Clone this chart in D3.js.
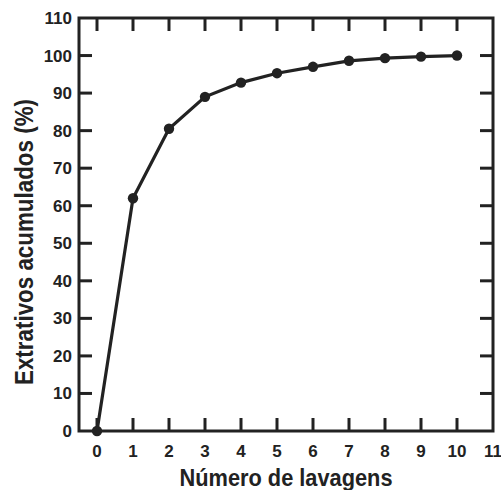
<!DOCTYPE html>
<html><head><meta charset="utf-8">
<script src="https://cdn.jsdelivr.net/npm/d3@7"></script>
<style>body{margin:0;background:#fff}svg{display:block}text{font-family:"Liberation Sans",Arial,sans-serif;font-weight:bold;fill:#222}</style>
</head><body>
<script>
const washes = [0,1,2,3,4,5,6,7,8,9,10];
const extractives = [0,62,80.5,89,92.8,95.3,97,98.6,99.3,99.7,100];
const xTicks = [0,1,2,3,4,5,6,7,8,9,10,11];
const yTicks = [0,10,20,30,40,50,60,70,80,90,100,110];
const xTitle = "Número de lavagens";
const yTitle = "Extrativos acumulados (%)";

const W=501,H=490;
const m={l:79,r:8,t:18,b:59};
const svg=d3.select("body").append("svg").attr("width",W).attr("height",H);
const x=d3.scaleLinear().domain([-0.5,11]).range([m.l,W-m.r]);
const y=d3.scaleLinear().domain([0,110]).range([H-m.b,m.t]);
const col="#222";
const tl=13;
const g=svg.append("g");
xTicks.forEach(t=>{
  if(t<11){
  g.append("line").attr("x1",x(t)).attr("x2",x(t)).attr("y1",y(0)).attr("y2",y(0)-tl).attr("stroke",col).attr("stroke-width",3);
  g.append("line").attr("x1",x(t)).attr("x2",x(t)).attr("y1",y(110)).attr("y2",y(110)+tl).attr("stroke",col).attr("stroke-width",3);
  }
  g.append("text").attr("x",x(t)).attr("y",y(0)+26).attr("text-anchor","middle").attr("font-size",17).text(t);
});
yTicks.forEach(t=>{
  if(t>0 && t<110){
  g.append("line").attr("x1",x(-0.5)).attr("x2",x(-0.5)+tl).attr("y1",y(t)).attr("y2",y(t)).attr("stroke",col).attr("stroke-width",3);
  g.append("line").attr("x1",x(11)).attr("x2",x(11)-tl).attr("y1",y(t)).attr("y2",y(t)).attr("stroke",col).attr("stroke-width",3);
  }
  g.append("text").attr("x",x(-0.5)-7).attr("y",y(t)+6).attr("text-anchor","end").attr("font-size",17).text(t);
});
g.append("rect").attr("x",x(-0.5)).attr("y",y(110)).attr("width",x(11)-x(-0.5)).attr("height",y(0)-y(110)).attr("fill","none").attr("stroke",col).attr("stroke-width",3);
const data=washes.map((w,i)=>[w,extractives[i]]);
g.append("path").datum(data).attr("d",d3.line().x(d=>x(d[0])).y(d=>y(d[1]))).attr("fill","none").attr("stroke",col).attr("stroke-width",3.2);
g.selectAll("circle.p").data(data).join("circle").attr("cx",d=>x(d[0])).attr("cy",d=>y(d[1])).attr("r",5.2).attr("fill",col);
svg.append("text").attr("x",286).attr("y",486).attr("text-anchor","middle").attr("font-size",24)
  .attr("textLength",213).attr("lengthAdjust","spacingAndGlyphs").text(xTitle);
svg.append("text").attr("transform",`translate(33,242) rotate(-90)`).attr("text-anchor","middle").attr("font-size",26)
  .attr("textLength",286).attr("lengthAdjust","spacingAndGlyphs").text(yTitle);
</script>
</body></html>
